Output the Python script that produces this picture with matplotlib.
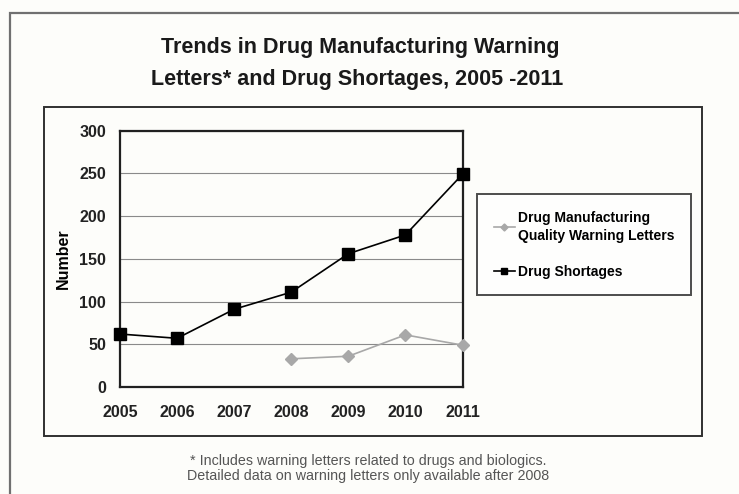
import matplotlib.pyplot as plt
from matplotlib.patches import Rectangle

years = [2005, 2006, 2007, 2008, 2009, 2010, 2011]
shortages = [62, 57, 91, 111, 156, 178, 249]
warning_years = [2008, 2009, 2010, 2011]
warning_letters = [33, 36, 61, 49]
y_ticks = [0, 50, 100, 150, 200, 250, 300]

plt.rcParams['font.family'] = ['Liberation Sans', 'DejaVu Sans']

W, H = 739, 494
fig = plt.figure(figsize=(W / 100, H / 100), dpi=100)
fig.patch.set_facecolor('#fdfdfa')

# outer frame and chart-area frame (pixel coords -> figure fraction)
def px_rect(x0, y0, x1, y1, lw, color):
    fig.add_artist(Rectangle((x0 / W, 1 - y1 / H), (x1 - x0) / W, (y1 - y0) / H,
                             transform=fig.transFigure, fill=False,
                             linewidth=lw, edgecolor=color))

px_rect(10, 13, 745, 500, 1.6, '#707070')
px_rect(44, 107, 702, 436, 1.4, '#303030')

ax = fig.add_axes([120 / W, 1 - 387 / H, (462.5 - 120) / W, (387 - 130.7) / H])
ax.set_facecolor('#fdfdfa')

ax.plot(warning_years, warning_letters, '-D', color='#a8a8a8', linewidth=1.2,
        markersize=6.5, label='Drug Manufacturing\nQuality Warning Letters',
        clip_on=False, zorder=3)
ax.plot(years, shortages, '-s', color='black', linewidth=1.2,
        markersize=8.5, label='Drug Shortages', clip_on=False, zorder=4)

ax.set_xlim(2005, 2011)
ax.set_ylim(0, 300)
ax.set_yticks(y_ticks)
ax.set_xticks(years)
ax.tick_params(axis='y', length=0, labelsize=11.5, pad=10)
ax.tick_params(axis='x', length=0, labelsize=11.5, pad=13)
for lbl in ax.get_xticklabels() + ax.get_yticklabels():
    lbl.set_fontweight('bold')
    lbl.set_color('#222222')
ax.grid(axis='y', color='#8a8a8a', linewidth=0.8)
ax.set_axisbelow(True)
for s in ax.spines.values():
    s.set_linewidth(1.6)
    s.set_color('#202020')
ax.set_ylabel('Number', fontsize=11.5, fontweight='bold', labelpad=6)

leg = ax.legend(loc='upper left', bbox_to_anchor=(477 / W, 1 - 194 / H),
                bbox_transform=fig.transFigure, frameon=True, fancybox=False,
                markerscale=0.55, handlelength=1.5,
                handletextpad=0.25, labelspacing=1.6, borderpad=1.2,
                borderaxespad=0, prop={'weight': 'bold', 'size': 10})
leg.get_texts()[0].set_linespacing(1.35)
leg.get_frame().set_edgecolor('#202020')
leg.get_frame().set_linewidth(1.4)
leg.get_frame().set_facecolor('white')

fig.text(360 / W, 1 - 48 / H, 'Trends in Drug Manufacturing Warning',
         ha='center', va='center', fontsize=15.5, fontweight='bold', color='#1a1a1a')
fig.text(357 / W, 1 - 79 / H, 'Letters* and Drug Shortages, 2005 -2011',
         ha='center', va='center', fontsize=15.5, fontweight='bold', color='#1a1a1a')

fig.text(368 / W, 1 - 461 / H, '* Includes warning letters related to drugs and biologics.',
         ha='center', va='center', fontsize=10.3, color='#555555')
fig.text(368 / W, 1 - 476 / H, 'Detailed data on warning letters only available after 2008',
         ha='center', va='center', fontsize=10.3, color='#555555')

fig.savefig('out.png', dpi=100, facecolor=fig.get_facecolor())
